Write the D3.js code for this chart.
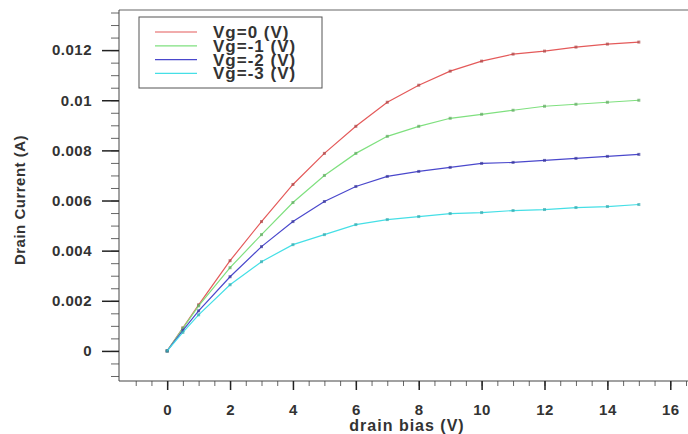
<!DOCTYPE html>
<html>
<head>
<meta charset="utf-8">
<script src="https://cdn.jsdelivr.net/npm/d3@7"></script>
<style>
  body { margin: 0; background: #fff; }
  text { font-family: "Liberation Sans", Arial, sans-serif; font-weight: bold; fill: #333; }
</style>
</head>
<body>
<div id="chart"></div>
<script>
// drain bias (V)
const bias = [0, 0.5, 1, 2, 3, 4, 5, 6, 7, 8, 9, 10, 11, 12, 13, 14, 15]
// drain current (A) for each gate voltage
const vg0 = [0, 0.00092, 0.00184, 0.0036, 0.00516, 0.00664, 0.00788, 0.00896, 0.00992, 0.0106, 0.01116, 0.01156, 0.01184, 0.01196, 0.01212, 0.01224, 0.01232]
const vg1 = [0, 0.0009, 0.0018, 0.00332, 0.00464, 0.00592, 0.007, 0.00788, 0.00856, 0.00896, 0.00928, 0.00944, 0.0096, 0.00976, 0.00984, 0.00992, 0.01]
const vg2 = [0, 0.00082, 0.0016, 0.00296, 0.00416, 0.00516, 0.00596, 0.00656, 0.00696, 0.00716, 0.00732, 0.00748, 0.00752, 0.0076, 0.00768, 0.00776, 0.00784]
const vg3 = [0, 0.00074, 0.00144, 0.00264, 0.00356, 0.00424, 0.00464, 0.00504, 0.00524, 0.00536, 0.00548, 0.00552, 0.0056, 0.00564, 0.00572, 0.00576, 0.00584]
const seriesNames = ["Vg=0 (V)", "Vg=-1 (V)", "Vg=-2 (V)", "Vg=-3 (V)"]
const xTicks = [0, 2, 4, 6, 8, 10, 12, 14, 16]
const yTicks = [0, 0.002, 0.004, 0.006, 0.008, 0.01, 0.012]

const colors = ["#e45a5a", "#7fe07f", "#4a48cc", "#45dfe6"]
const allSeries = [vg0, vg1, vg2, vg3]

const width = 688, height = 434

const svg = d3.select("#chart").append("svg")
    .attr("width", width)
    .attr("height", height)

const x = d3.scaleLinear().domain([-1.5, 16.5]).range([120, 686])
const y = d3.scaleLinear().domain([-0.0012, 0.0136]).range([381, 10])

// frame top line
svg.append("line")
    .attr("x1", 119).attr("x2", 688).attr("y1", 10).attr("y2", 10)
    .attr("stroke", "#999").attr("stroke-width", 1.5)

// minor ticks
const xMinor = d3.range(-1, 16.51, 0.5)
const yMinor = d3.range(-0.001, 0.01351, 0.0005)

svg.append("g")
    .attr("transform", "translate(0,381)")
    .call(d3.axisBottom(x).tickValues(xMinor).tickSize(5).tickFormat(""))
    .call(g => g.select(".domain").remove())
    .selectAll("line").attr("stroke", "#666")

svg.append("g")
    .attr("transform", "translate(119,0)")
    .call(d3.axisLeft(y).tickValues(yMinor).tickSize(8).tickFormat(""))
    .call(g => g.select(".domain").remove())
    .selectAll("line").attr("stroke", "#666")

// major ticks + labels
const xAxis = svg.append("g")
    .attr("transform", "translate(0,381)")
    .call(d3.axisBottom(x).tickValues(xTicks).tickSize(9).tickPadding(14).tickSizeOuter(0))
xAxis.select(".domain").attr("d", "M119,0H688").attr("stroke", "#444")
xAxis.selectAll("line").attr("stroke", "#222").attr("stroke-width", 1.5)
xAxis.selectAll("text").style("font-size", "15px").style("letter-spacing", "0.5px").attr("fill", "#333")

const yAxis = svg.append("g")
    .attr("transform", "translate(119,0)")
    .call(d3.axisLeft(y).tickValues(yTicks).tickSize(17).tickPadding(10).tickSizeOuter(0)
        .tickFormat(d => d === 0 ? "0" : String(+d.toFixed(3))))
yAxis.select(".domain").attr("d", "M0,10V381").attr("stroke", "#444")
yAxis.selectAll("line").attr("stroke", "#222").attr("stroke-width", 1.5)
yAxis.selectAll("text").style("font-size", "15px").style("letter-spacing", "0.5px").attr("fill", "#333")

// axis titles
svg.append("text")
    .attr("x", 407).attr("y", 431)
    .attr("text-anchor", "middle")
    .style("font-size", "16px")
    .style("letter-spacing", "1px")
    .text("drain bias (V)")

svg.append("text")
    .attr("transform", "translate(25,200) rotate(-90)")
    .attr("text-anchor", "middle")
    .style("font-size", "15px")
    .style("letter-spacing", "0.5px")
    .text("Drain Current (A)")

// curves
const line = d3.line()
    .x((d, i) => x(bias[i]))
    .y(d => y(d))

allSeries.forEach(function(s, k) {
    svg.append("path")
        .datum(s)
        .attr("fill", "none")
        .attr("stroke", colors[k])
        .attr("stroke-width", 1.2)
        .attr("d", line)
    svg.append("g").selectAll("rect")
        .data(s)
        .enter().append("rect")
        .attr("x", (d, i) => x(bias[i]) - 1.5)
        .attr("y", d => y(d) - 1.5)
        .attr("width", 3).attr("height", 3)
        .attr("fill", d3.color(colors[k]).darker(0.8))
        .attr("opacity", 0.7)
})

// legend
const legend = svg.append("g")
legend.append("rect")
    .attr("x", 139).attr("y", 17).attr("width", 183).attr("height", 71)
    .attr("fill", "#fff").attr("stroke", "#555").attr("stroke-width", 1)
seriesNames.forEach(function(name, k) {
    const ly = 32 + k * 13.8
    legend.append("line")
        .attr("x1", 155).attr("x2", 197).attr("y1", ly).attr("y2", ly)
        .attr("stroke", colors[k]).attr("stroke-width", 1.2)
    legend.append("text")
        .attr("x", 213).attr("y", ly + 6)
        .style("font-size", "17px")
        .style("letter-spacing", "1px")
        .text(name)
})
</script>
</body>
</html>
